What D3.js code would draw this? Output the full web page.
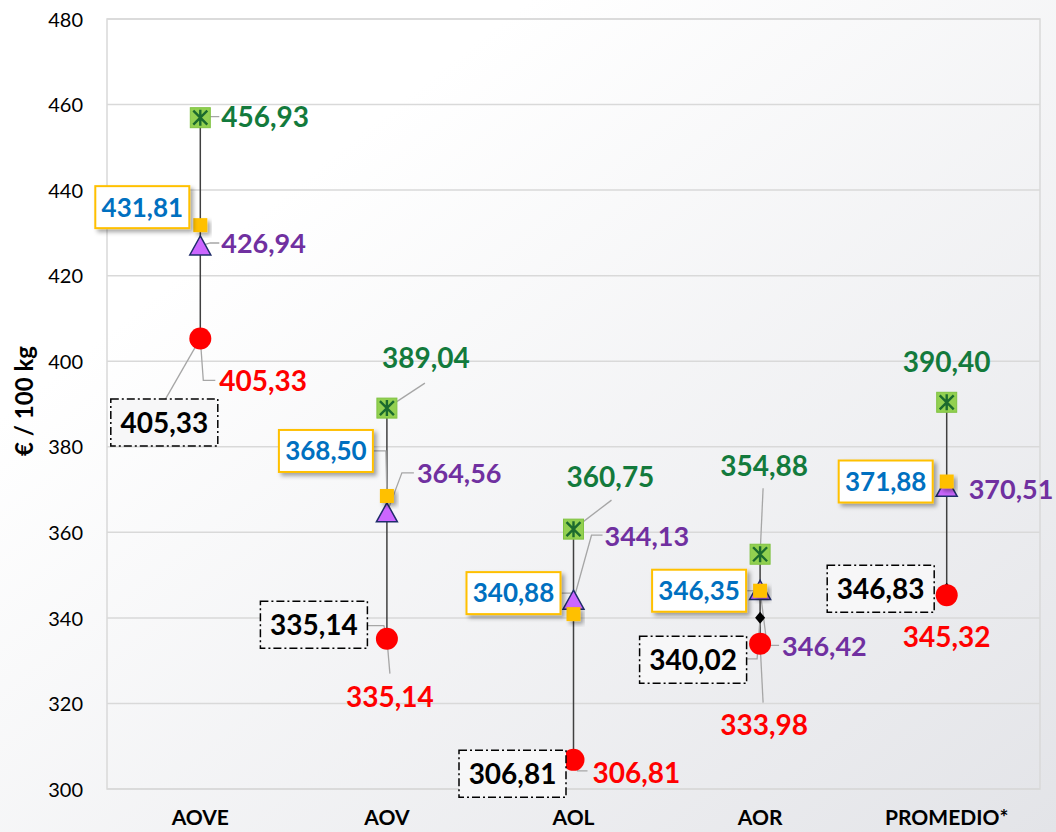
<!DOCTYPE html>
<html lang="es">
<head>
<meta charset="utf-8">
<script src="https://cdn.jsdelivr.net/npm/d3@7"></script>
<style>
  body { margin: 0; background: #fff; }
  .tick-label { font: 20px Lato, "Open Sans", sans-serif; fill: #000; }
  .cat-label { font: bold 21px Lato, "Open Sans", sans-serif; fill: #000; }
  .val { font-family: Lato, "Open Sans", sans-serif; font-weight: bold; }
</style>
</head>
<body>
<script>
// categories and series
var categories = ["AOVE", "AOV", "AOL", "AOR", "PROMEDIO*"];
var maxValues = [456.93, 389.04, 360.75, 354.88, 390.40];
var meanValues = [431.81, 368.50, 340.88, 346.35, 371.88];
var medianValues = [426.94, 364.56, 344.13, 346.42, 370.51];
var minValues = [405.33, 335.14, 306.81, 333.98, 345.32];
var lastValues = [405.33, 335.14, 306.81, 340.02, 346.83];
var yTicks = [300, 320, 340, 360, 380, 400, 420, 440, 460, 480];

// label placement: offset of label from its marker (px), leader line bends
var maxLabels = [
  {dx: 21, dy: -1, anchor: "start", leader: [[10, -1], [19, -1]]},
  {dx: 39, dy: -50, anchor: "middle", leader: [[38, -25]]},
  {dx: 37, dy: -52, anchor: "middle", leader: [[38, -29]]},
  {dx: 4, dy: -88, anchor: "middle", leader: [[3, -66]]},
  {dx: 0, dy: -40, anchor: "middle", leader: null}
];
var meanLabels = [
  {dx: -58, dy: -18, leader: null},
  {dx: -61, dy: -45, leader: [[-1, -45], [-13, -45]]},
  {dx: -60, dy: -21, leader: [[0, -21], [-12, -21]]},
  {dx: -61, dy: 0, leader: [[-13, 0]]},
  {dx: -61, dy: 0, leader: null}
];
var medianLabels = [
  {dx: 21, dy: -3, leader: [[10, -3], [19, -3]]},
  {dx: 30, dy: -40, leader: [[15, -40], [27, -40]]},
  {dx: 31, dy: -64, leader: [[18, -65], [29, -65]]},
  {dx: 22, dy: 56, leader: [[7, 55], [19, 55]]},
  {dx: 22, dy: 2, leader: null}
];
var minLabels = [
  {dx: 19, dy: 42, anchor: "start", leader: [[3, 42], [15, 42]]},
  {dx: 3, dy: 58, anchor: "middle", leader: [[3, 35]]},
  {dx: 19, dy: 13, anchor: "start", leader: [[4, 11], [14, 11]]},
  {dx: 4, dy: 81, anchor: "middle", leader: [[3, 59]]},
  {dx: 0, dy: 42, anchor: "middle", leader: null}
];
var lastLabels = [
  {dx: -36, dy: 84, leader: [[-35, 61]]},
  {dx: -73, dy: -14, leader: [[-3, -13], [-20, -13]]},
  {dx: -61, dy: 14, leader: null},
  {dx: -67, dy: 42, leader: [[-3, 41], [-13, 41]]},
  {dx: -66, dy: 0, leader: null}
];

var W = 1056, H = 832;
var plot = {left: 107, right: 1040, top: 19, bottom: 789};

var fmt = function(v) { return d3.format(".2f")(v).replace(".", ","); };

var svg = d3.select("body").append("svg")
  .attr("width", W)
  .attr("height", H);

var defs = svg.append("defs");
var grad = defs.append("linearGradient")
  .attr("id", "bg")
  .attr("x1", "0").attr("y1", "0").attr("x2", "1").attr("y2", "1");
grad.append("stop").attr("offset", "0.25").attr("stop-color", "#ffffff");
grad.append("stop").attr("offset", "1").attr("stop-color", "#e3e4e8");

var shadow = defs.append("filter")
  .attr("id", "shadow")
  .attr("x", "-20%").attr("y", "-20%").attr("width", "150%").attr("height", "160%");
shadow.append("feDropShadow")
  .attr("dx", 3).attr("dy", 3).attr("stdDeviation", 2)
  .attr("flood-color", "#000").attr("flood-opacity", 0.35);

svg.append("rect")
  .attr("width", W).attr("height", H)
  .attr("fill", "url(#bg)");

// scales
var x = d3.scaleBand()
  .domain(categories)
  .range([plot.left, plot.right]);
var y = d3.scaleLinear()
  .domain([300, 480])
  .range([plot.bottom, plot.top]);

var cx = function(i) { return x(categories[i]) + x.bandwidth() / 2; };

// gridlines
svg.append("g")
  .selectAll("line")
  .data(yTicks)
  .enter()
  .append("line")
  .attr("x1", plot.left)
  .attr("x2", plot.right)
  .attr("y1", function(d) { return y(d); })
  .attr("y2", function(d) { return y(d); })
  .attr("stroke", "#d9d9d9")
  .attr("stroke-width", 1.5);

svg.append("rect")
  .attr("x", plot.left).attr("y", plot.top)
  .attr("width", plot.right - plot.left)
  .attr("height", plot.bottom - plot.top)
  .attr("fill", "none")
  .attr("stroke", "#d9d9d9")
  .attr("stroke-width", 1.5);

// y axis labels
var yAxis = d3.axisLeft(y).tickValues(yTicks).tickSize(0).tickPadding(0);
var yg = svg.append("g")
  .attr("transform", "translate(83,0)")
  .call(yAxis);
yg.select(".domain").remove();
yg.selectAll("text")
  .attr("class", "tick-label")
  .attr("dy", "0.36em");

// x axis labels
var xAxis = d3.axisBottom(x).tickSize(0).tickPadding(0);
var xg = svg.append("g")
  .attr("transform", "translate(0,825)")
  .call(xAxis);
xg.select(".domain").remove();
xg.selectAll("text")
  .attr("class", "cat-label")
  .attr("dy", "0");

// y title
svg.append("text")
  .attr("class", "val")
  .attr("transform", "translate(25,401) rotate(-90)")
  .attr("text-anchor", "middle")
  .attr("dy", "0.35em")
  .attr("font-size", "24px")
  .attr("fill", "#000")
  .text("€ / 100 kg");

// high-low lines
var idx = d3.range(categories.length);
svg.append("g")
  .selectAll("line")
  .data(idx)
  .enter()
  .append("line")
  .attr("x1", cx).attr("x2", cx)
  .attr("y1", function(i) {
    return y(d3.max([maxValues[i], meanValues[i], medianValues[i], minValues[i], lastValues[i]]));
  })
  .attr("y2", function(i) {
    return y(d3.min([maxValues[i], meanValues[i], medianValues[i], minValues[i], lastValues[i]]));
  })
  .attr("stroke", "#404040")
  .attr("stroke-width", 1.5);

// leader lines
var leaderGroup = svg.append("g");
var lineGen = d3.line();
function drawLeaders(values, layout) {
  idx.forEach(function(i) {
    var L = layout[i];
    if (!L.leader) return;
    var mx = cx(i), my = y(values[i]);
    var pts = [[mx, my]].concat(L.leader.map(function(p) { return [mx + p[0], my + p[1]]; }));
    leaderGroup.append("path")
      .attr("d", lineGen(pts))
      .attr("fill", "none")
      .attr("stroke", "#a6a6a6")
      .attr("stroke-width", 1.3);
  });
}
drawLeaders(maxValues, maxLabels);
drawLeaders(meanValues, meanLabels);
drawLeaders(medianValues, medianLabels);
drawLeaders(minValues, minLabels);
drawLeaders(lastValues, lastLabels);

// markers: max (green square with asterisk)
var gMax = svg.append("g").selectAll("g")
  .data(idx).enter().append("g")
  .attr("transform", function(i) { return "translate(" + cx(i) + "," + y(maxValues[i]) + ")"; });
gMax.append("rect")
  .attr("x", -10).attr("y", -10).attr("width", 20).attr("height", 20)
  .attr("fill", "#92d050").attr("stroke", "#7fc241").attr("stroke-width", 1);
gMax.append("path")
  .attr("d", "M0,-8V8M-7,-7L7,7M7,-7L-7,7")
  .attr("stroke", "#1b6a2e").attr("stroke-width", 2.4).attr("fill", "none");

// last price (black diamond)
svg.append("g").selectAll("path")
  .data(idx).enter().append("path")
  .attr("transform", function(i) { return "translate(" + cx(i) + "," + y(lastValues[i]) + ")"; })
  .attr("d", "M0,-6L5,0L0,6L-5,0Z")
  .attr("fill", "#000");

// min (red circle)
svg.append("g").selectAll("circle")
  .data(idx).enter().append("circle")
  .attr("cx", cx)
  .attr("cy", function(i) { return y(minValues[i]); })
  .attr("r", 11)
  .attr("fill", "#ff0000");

// median (purple triangle)
svg.append("g").selectAll("path")
  .data(idx).enter().append("path")
  .attr("transform", function(i) { return "translate(" + cx(i) + "," + y(medianValues[i]) + ")"; })
  .attr("d", "M0,-10L10.5,9L-10.5,9Z")
  .attr("fill", "#cc66ff")
  .attr("stroke", "#1f2d6b")
  .attr("stroke-width", 1.5);

// mean (yellow square)
svg.append("g").selectAll("rect")
  .data(idx).enter().append("rect")
  .attr("x", function(i) { return cx(i) - 7; })
  .attr("y", function(i) { return y(meanValues[i]) - 7; })
  .attr("width", 14).attr("height", 14)
  .attr("fill", "#ffc000")
  .attr("filter", "url(#shadow)");

// plain value labels
function plainLabels(values, layout, color, size, defAnchor) {
  svg.append("g").selectAll("text")
    .data(idx).enter().append("text")
    .attr("class", "val")
    .attr("x", function(i) { return cx(i) + layout[i].dx; })
    .attr("y", function(i) { return y(values[i]) + layout[i].dy; })
    .attr("dy", "0.36em")
    .attr("text-anchor", function(i) { return layout[i].anchor || defAnchor; })
    .attr("font-size", size + "px")
    .attr("fill", color)
    .text(function(i) { return fmt(values[i]); });
}
plainLabels(maxValues, maxLabels, "#137a3c", 28, "start");
plainLabels(medianValues, medianLabels, "#7030a0", 27, "start");
plainLabels(minValues, minLabels, "#ff0000", 28, "start");

// boxed labels
function boxLabels(values, layout, opts) {
  var g = svg.append("g").selectAll("g")
    .data(idx).enter().append("g")
    .attr("transform", function(i) {
      return "translate(" + (cx(i) + layout[i].dx) + "," + (y(values[i]) + layout[i].dy) + ")";
    });
  g.append("rect")
    .attr("x", -opts.w / 2).attr("y", -opts.h / 2)
    .attr("width", opts.w).attr("height", opts.h)
    .attr("fill", opts.fill)
    .attr("stroke", opts.stroke)
    .attr("stroke-width", opts.sw)
    .attr("stroke-dasharray", opts.dash)
    .attr("filter", opts.filter);
  g.append("text")
    .attr("class", "val")
    .attr("text-anchor", "middle")
    .attr("dy", "0.36em")
    .attr("font-size", opts.size + "px")
    .attr("fill", opts.color)
    .text(function(i) { return fmt(values[i]); });
}
boxLabels(meanValues, meanLabels, {
  w: 94, h: 42, fill: "#ffffff", stroke: "#ffc000", sw: 2, dash: null,
  filter: "url(#shadow)", size: 26, color: "#0070c0"
});
boxLabels(lastValues, lastLabels, {
  w: 107, h: 47, fill: "#f7f7f8", stroke: "#000", sw: 1.5, dash: "8,3,2,3",
  filter: null, size: 28, color: "#000"
});
</script>
</body>
</html>
